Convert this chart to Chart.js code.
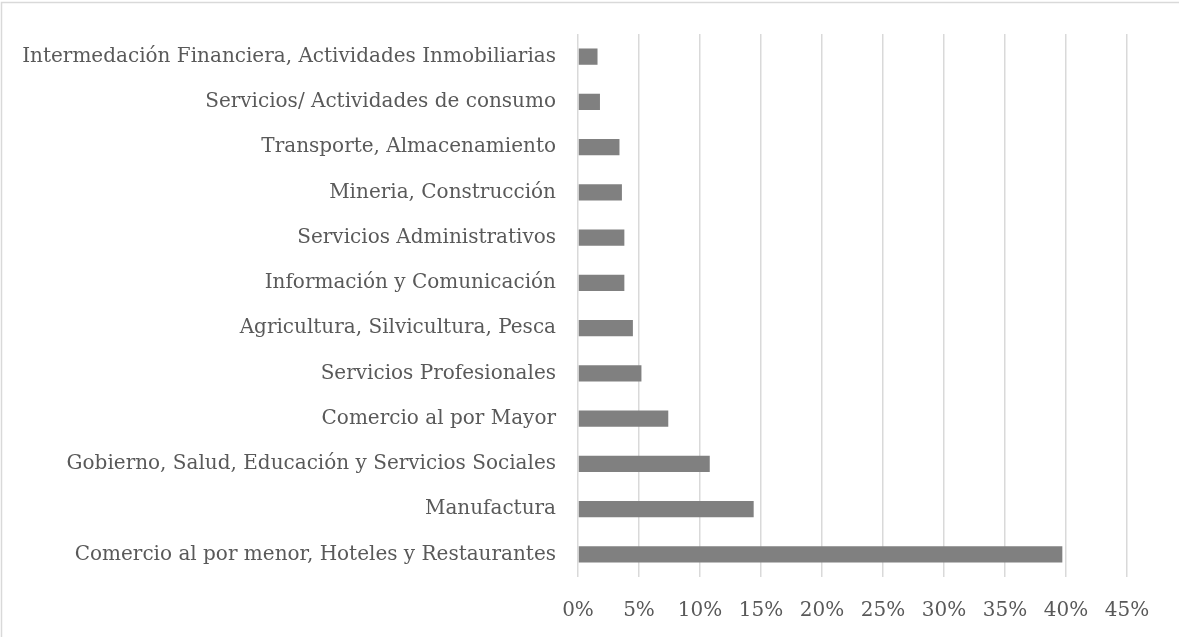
<!DOCTYPE html>
<html>
<head>
<meta charset="utf-8">
<script src="https://cdn.jsdelivr.net/npm/chart.js@4.4.1/dist/chart.umd.min.js"></script>
<style>
  html, body { margin: 0; padding: 0; background: #ffffff; }
  #wrap { position: relative; width: 1179px; height: 637px; }
</style>
</head>
<body>
<div id="wrap"><canvas id="chart" width="1179" height="637"></canvas></div>
<script>
// Sectors, top to bottom as drawn
const categories = [
  'Intermedación Financiera, Actividades Inmobiliarias',
  'Servicios/ Actividades de consumo',
  'Transporte, Almacenamiento',
  'Mineria, Construcción',
  'Servicios Administrativos',
  'Información y Comunicación',
  'Agricultura, Silvicultura, Pesca',
  'Servicios Profesionales',
  'Comercio al por Mayor',
  'Gobierno, Salud, Educación y Servicios Sociales',
  'Manufactura',
  'Comercio al por menor, Hoteles y Restaurantes'
];

// Share of total, percent
const shares = [1.6, 1.8, 3.4, 3.6, 3.8, 3.8, 4.5, 5.2, 7.4, 10.8, 14.4, 39.7];

const xTicks = [0, 5, 10, 15, 20, 25, 30, 35, 40, 45];

const FONT = "'DejaVu Serif', serif";
const TEXT = '#595959';
const GRID = '#d9d9d9';

// Chart frame: only the top and left edges fall inside the picture
const frame = {
  id: 'frame',
  beforeDraw(chart) {
    const ctx = chart.ctx;
    ctx.save();
    ctx.fillStyle = '#ffffff';
    ctx.fillRect(0, 0, chart.width, chart.height);
    ctx.strokeStyle = GRID;
    ctx.lineWidth = 1.5;
    ctx.beginPath();
    ctx.moveTo(1.5, chart.height);
    ctx.lineTo(1.5, 2.5);
    ctx.lineTo(chart.width, 2.5);
    ctx.stroke();
    ctx.restore();
  }
};

new Chart(document.getElementById('chart'), {
  type: 'bar',
  data: {
    labels: categories,
    datasets: [{
      data: shares,
      backgroundColor: '#808080',
      borderWidth: 0,
      categoryPercentage: 1,
      barPercentage: 0.36
    }]
  },
  options: {
    indexAxis: 'y',
    responsive: false,
    animation: false,
    layout: { padding: { top: 31, right: 52, bottom: 0, left: 0 } },
    plugins: { legend: { display: false }, tooltip: { enabled: false } },
    scales: {
      x: {
        min: 0,
        max: 45,
        afterBuildTicks(axis) { axis.ticks = xTicks.map(v => ({ value: v })); },
        afterFit(axis) { axis.height = 60; },
        grid: { color: GRID, lineWidth: 1.5, drawTicks: false },
        border: { display: false },
        ticks: {
          padding: 22,
          color: TEXT,
          font: { family: FONT, size: 20 },
          callback: v => v + '%'
        }
      },
      y: {
        afterFit(axis) { axis.width = 578; },
        grid: { display: false, drawTicks: false },
        border: { display: false },
        ticks: {
          padding: 22,
          color: TEXT,
          font: { family: FONT, size: 20 }
        }
      }
    }
  },
  plugins: [frame]
});
</script>
</body>
</html>
